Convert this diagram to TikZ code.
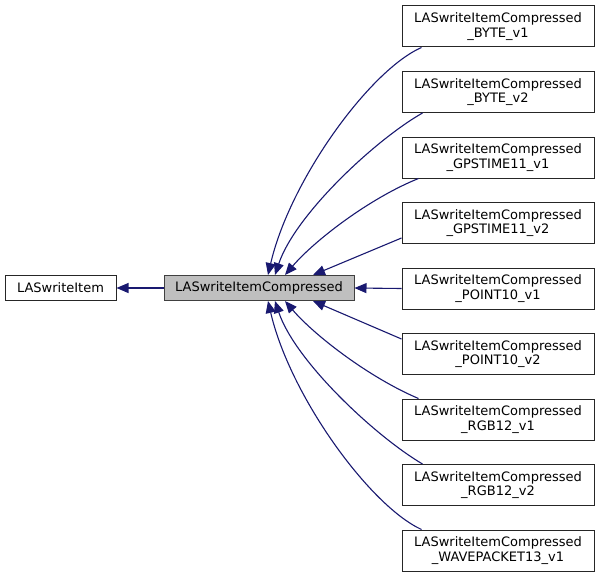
\documentclass[tikz,border=0pt]{standalone}
\usepackage{fontspec}
\setmainfont{DejaVu Sans}
\usetikzlibrary{arrows.meta,calc}
\begin{document}
\begin{tikzpicture}[x=1pt,y=-1pt,
  box/.style={draw=black!85,line width=1pt,fill=white,inner sep=0pt,font=\fontsize{13}{14.5}\selectfont,align=center},
  rbox/.style={box,minimum width=192pt,minimum height=41pt},
  edge/.style={draw={rgb,255:red,25;green,25;blue,112},line width=1.1pt,-{Triangle[length=12pt,width=10pt]}}
]
\useasboundingbox (0,0) rectangle (599,575);
\node[box,minimum width=111pt,minimum height=25pt] (base) at (60.5,288) {LASwriteItem};
\node[box,fill={rgb,255:red,191;green,191;blue,191},draw=black!75,minimum width=190pt,minimum height=25pt] (c) at (259,288) {LASwriteItemCompressed};
\node[rbox] (b1) at (498,26.5) {LASwriteItemCompressed\\\_BYTE\_v1};
\node[rbox] (b2) at (498,92) {LASwriteItemCompressed\\\_BYTE\_v2};
\node[rbox] (b3) at (498,157.5) {LASwriteItemCompressed\\\_GPSTIME11\_v1};
\node[rbox] (b4) at (498,223) {LASwriteItemCompressed\\\_GPSTIME11\_v2};
\node[rbox] (b5) at (498,288.5) {LASwriteItemCompressed\\\_POINT10\_v1};
\node[rbox] (b6) at (498,354) {LASwriteItemCompressed\\\_POINT10\_v2};
\node[rbox] (b7) at (498,419.5) {LASwriteItemCompressed\\\_RGB12\_v1};
\node[rbox] (b8) at (498,485) {LASwriteItemCompressed\\\_RGB12\_v2};
\node[rbox] (b9) at (498,550.5) {LASwriteItemCompressed\\\_WAVEPACKET13\_v1};
\draw[edge] (c.west) -- (base.east);
\draw[edge] ($(b1.south west)+(20,0)$) .. controls (370,70) and (290,180) .. ($(c.north)+(9,0)$);
\draw[edge] ($(b2.south west)+(21,0)$) .. controls (375,140) and (295,215) .. ($(c.north)+(16,0)$);
\draw[edge] ($(b3.south west)+(17,0)$) .. controls (370,198) and (315,240) .. ($(c.north)+(26,0)$);
\draw[edge] ($(b4.west)+(0,15)$) -- ($(c.north)+(54,0)$);
\draw[edge] (b5.west) -- (c.east);
\draw[edge] ($(b6.west)+(0,-15)$) -- ($(c.south)+(54,0)$);
\draw[edge] ($(b7.north west)+(17,0)$) .. controls (370,378) and (315,336) .. ($(c.south)+(26,0)$);
\draw[edge] ($(b8.north west)+(21,0)$) .. controls (375,436) and (295,361) .. ($(c.south)+(16,0)$);
\draw[edge] ($(b9.north west)+(20,0)$) .. controls (370,506) and (290,396) .. ($(c.south)+(9,0)$);
\end{tikzpicture}
\end{document}
